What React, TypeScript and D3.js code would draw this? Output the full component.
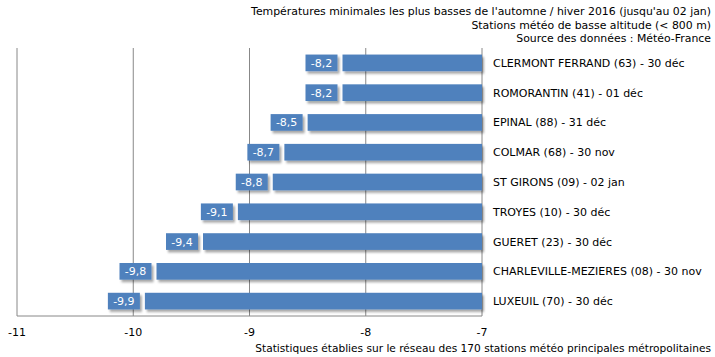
import React from "react";
import * as d3 from "d3";

const stations = [
  "CLERMONT FERRAND (63) - 30 déc",
  "ROMORANTIN (41) - 01 déc",
  "EPINAL (88) - 31 déc",
  "COLMAR (68) - 30 nov",
  "ST GIRONS (09) - 02 jan",
  "TROYES (10) - 30 déc",
  "GUERET (23) - 30 déc",
  "CHARLEVILLE-MEZIERES (08) - 30 nov",
  "LUXEUIL (70) - 30 déc",
];
const values = [-8.2, -8.2, -8.5, -8.7, -8.8, -9.1, -9.4, -9.8, -9.9];
const ticks = [-11, -10, -9, -8, -7];
const titleLines = [
  "Températures minimales les plus basses de l'automne / hiver 2016 (jusqu'au 02 jan)",
  "Stations météo de basse altitude (< 800 m)",
  "Source des données : Météo-France",
];
const footer =
  "Statistiques établies sur le réseau des 170 stations météo principales métropolitaines";

const W = 715;
const H = 357;
const left = 17;
const right = 482;
const top = 48;
const bottom = 316;
const blue = "#4f81bd";
const font = "'DejaVu Sans', Verdana, sans-serif";

export default function App() {
  const x = d3.scaleLinear().domain([-11, -7]).range([left, right]);
  const y = d3.scaleBand<string>().domain(stations).range([top, bottom]).paddingInner(0.44).paddingOuter(0.22);
  const fmt = (v: number) => v.toFixed(1).replace(".", ",");
  const bh = y.bandwidth();
  return (
    <svg width={W} height={H} style={{ position: "absolute", left: 0, top: 0 }} fontFamily={font}>
      <defs>
        <filter id="sh" x="-10%" y="-30%" width="130%" height="190%">
          <feDropShadow dx="2" dy="2.5" stdDeviation="1.2" floodColor="#000" floodOpacity="0.35" />
        </filter>
      </defs>
      <rect width={W} height={H} fill="#fff" />
      {titleLines.map((t, i) => (
        <text key={i} x={711} y={15 + i * 13.5} textAnchor="end" fontSize={10.9} fill="#000">
          {t}
        </text>
      ))}
      {ticks.map((t) => (
        <line key={t} x1={x(t)} x2={x(t)} y1={top} y2={bottom} stroke="#888" strokeWidth={1} />
      ))}
      <line x1={left} x2={right} y1={bottom} y2={bottom} stroke="#888" strokeWidth={1} />
      {ticks.map((t) => (
        <text key={"t" + t} x={x(t)} y={336} textAnchor="middle" fontSize={11} fill="#000">
          {t}
        </text>
      ))}
      {stations.map((s, i) => {
        const v = values[i];
        const yy = y(s)!;
        const x0 = x(v);
        const bw = 32;
        return (
          <g key={s}>
            <rect x={x0} y={yy} width={x(-7) - x0} height={bh} fill={blue} filter="url(#sh)" />
            <rect x={x0 - 5 - bw} y={yy} width={bw} height={bh} fill={blue} filter="url(#sh)" />
            <text x={x0 - 5 - bw / 2} y={yy + bh / 2 + 4} textAnchor="middle" fontSize={11} fill="#fff">
              {fmt(v)}
            </text>
            <text x={493} y={yy + bh / 2 + 4} fontSize={11} fill="#000">
              {s}
            </text>
          </g>
        );
      })}
      <text x={711} y={352} textAnchor="end" fontSize={10.6} fill="#000">
        {footer}
      </text>
    </svg>
  );
}
